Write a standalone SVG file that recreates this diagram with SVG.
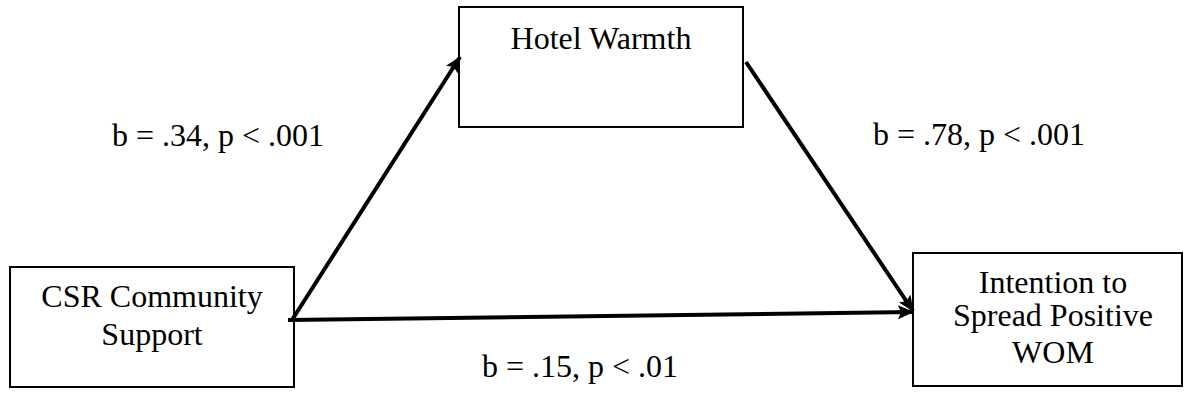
<svg xmlns="http://www.w3.org/2000/svg" width="1184" height="396" viewBox="0 0 1184 396">
<style>
.box{fill:#fff;stroke:#000;stroke-width:2}
.t{font-family:"Liberation Serif","Times New Roman",serif;font-size:32px;fill:#000}
.c{text-anchor:middle}
.edge{stroke:#000;stroke-width:4;fill:none}
</style>
<defs>
<marker id="ah" viewBox="0 0 16 14" refX="15" refY="7" markerWidth="16" markerHeight="14" markerUnits="userSpaceOnUse" orient="auto">
<path d="M0,0 L16,7 L0,14 L3,7 Z" fill="#000"/>
</marker>
</defs>
<rect width="1184" height="396" fill="#fff"/>
<g id="hotel">
<rect class="box" x="459" y="7" width="284" height="120"/>
<text class="t c" x="601" y="49">Hotel Warmth</text>
</g>
<g id="csr">
<rect class="box" x="10" y="267" width="284" height="120"/>
<text class="t c" x="152" y="307">CSR Community</text>
<text class="t c" x="152" y="345">Support</text>
</g>
<g id="wom">
<rect class="box" x="913" y="253" width="269" height="133"/>
<text class="t c" x="1053" y="293">Intention to</text>
<text class="t c" x="1053" y="326">Spread Positive</text>
<text class="t c" x="1053" y="363">WOM</text>
</g>
<g id="connectors">
<line class="edge" x1="292" y1="320" x2="460" y2="57" marker-end="url(#ah)"/>
<line class="edge" x1="746" y1="62" x2="913" y2="311" marker-end="url(#ah)"/>
<line class="edge" x1="288" y1="320" x2="913" y2="312" marker-end="url(#ah)"/>
</g>
<g id="labels">
<text class="t" x="112" y="146">b = .34, p &lt; .001</text>
<text class="t" x="873" y="145">b = .78, p &lt; .001</text>
<text class="t" x="482" y="377">b = .15, p &lt; .01</text>
</g>
</svg>
